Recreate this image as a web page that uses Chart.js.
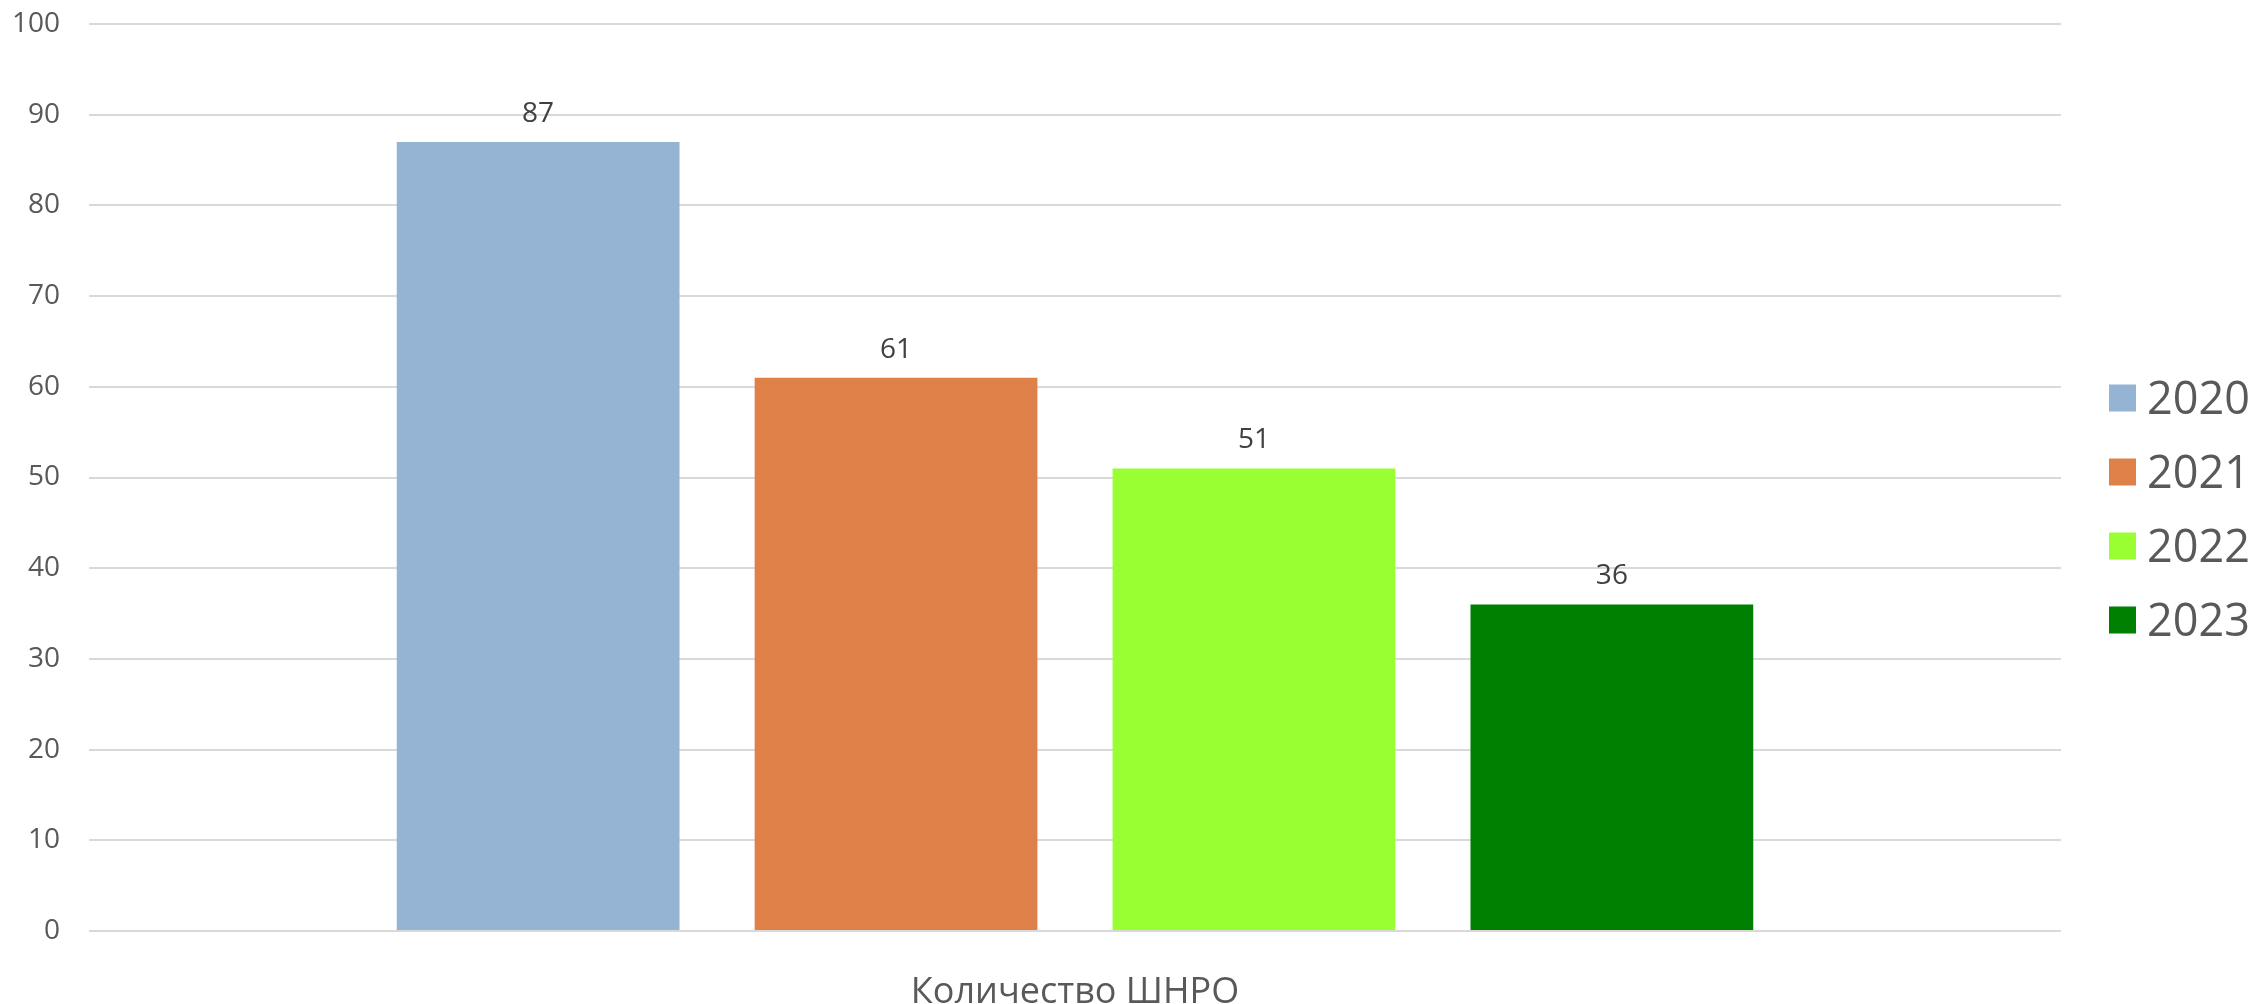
<!DOCTYPE html>
<html>
<head>
<meta charset="utf-8">
<script src="https://cdn.jsdelivr.net/npm/chart.js@4.4.0/dist/chart.umd.min.js"></script>
<style>
  html, body { margin: 0; padding: 0; background: #fff; }
</style>
</head>
<body>
<canvas id="shnroChart" width="2252" height="1004"></canvas>
<script>
  const categories = ['Количество ШНРО'];
  const years = ['2020', '2021', '2022', '2023'];
  const counts = [87, 61, 51, 36];
  const yearColors = ['#95B3D3', '#DE8047', '#99FF33', '#008000'];
  const yMin = 0;
  const yMax = 100;
  const yStep = 10;

  // value labels above each bar
  const barValueLabels = {
    id: 'barValueLabels',
    afterDatasetsDraw(chart) {
      const ctx = chart.ctx;
      ctx.save();
      ctx.font = '28px "Open Sans"';
      ctx.fillStyle = '#404040';
      ctx.textAlign = 'center';
      ctx.textBaseline = 'alphabetic';
      chart.data.datasets.forEach((ds, i) => {
        chart.getDatasetMeta(i).data.forEach((bar, j) => {
          ctx.fillText(ds.data[j], bar.x, bar.y - 20);
        });
      });
      ctx.restore();
    }
  };

  // legend on the right, drawn by hand so the spacing matches
  const sideLegend = {
    id: 'sideLegend',
    afterDraw(chart) {
      const ctx = chart.ctx;
      ctx.save();
      ctx.font = '45px "Open Sans"';
      ctx.textBaseline = 'alphabetic';
      ctx.textAlign = 'left';
      chart.data.datasets.forEach((ds, i) => {
        const cy = 398 + i * 74;
        ctx.fillStyle = ds.backgroundColor;
        ctx.fillRect(2109, cy - 13.5, 27, 27);
        ctx.fillStyle = '#595959';
        ctx.fillText(ds.label, 2147, cy + 16);
      });
      ctx.restore();
    }
  };

  new Chart(document.getElementById('shnroChart'), {
    type: 'bar',
    data: {
      labels: categories,
      datasets: years.map((year, i) => ({
        label: year,
        data: [counts[i]],
        backgroundColor: yearColors[i],
        categoryPercentage: 0.726,
        barPercentage: 0.79
      }))
    },
    options: {
      responsive: false,
      animation: false,
      devicePixelRatio: 1,
      layout: { padding: { left: 14, right: 191, top: 24, bottom: 0 } },
      plugins: {
        legend: { display: false },
        tooltip: { enabled: false }
      },
      scales: {
        x: {
          grid: { display: false },
          border: { display: false },
          ticks: {
            color: '#595959',
            font: { family: 'Open Sans', size: 36, lineHeight: 1.2 },
            padding: 32
          },
          afterFit(scale) {
            scale.height = 73;
          }
        },
        y: {
          min: yMin,
          max: yMax,
          border: { display: false },
          grid: { color: '#D9D9D9', lineWidth: 2, drawTicks: false },
          ticks: {
            stepSize: yStep,
            color: '#595959',
            font: { family: 'Open Sans', size: 28 },
            padding: 29
          },
          afterFit(scale) {
            scale.width = 75;
            scale.paddingTop = 0;
            scale.paddingBottom = 0;
          }
        }
      }
    },
    plugins: [barValueLabels, sideLegend]
  });
</script>
</body>
</html>
